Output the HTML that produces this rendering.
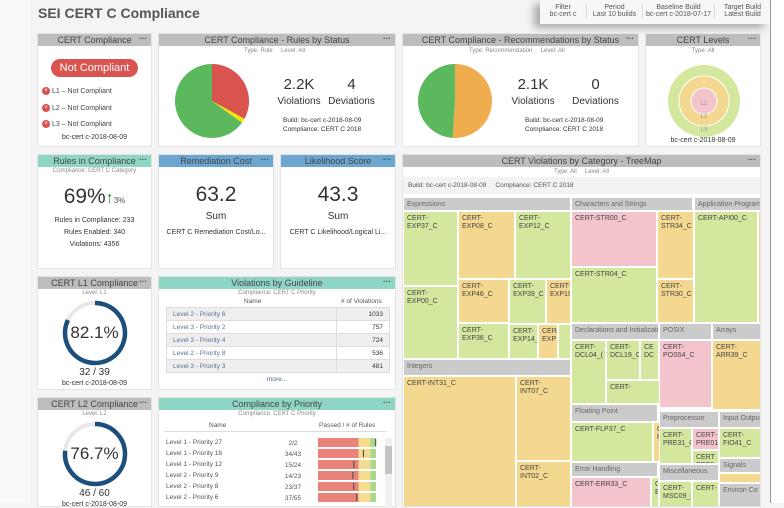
<!DOCTYPE html>
<html><head><meta charset="utf-8"><style>
*{box-sizing:border-box;margin:0;padding:0}
body{width:784px;height:503px;overflow:hidden;background:#f4f4f4;font-family:"Liberation Sans",Arial,sans-serif;color:#333;position:relative}
.a{position:absolute}
.p{position:absolute;background:#fff;border:1px solid #e4e4e4}
.h{position:absolute;left:0;right:0;top:0;height:12px;background:#bdbdbd;color:#444;font-size:9px;line-height:12px;text-align:center;white-space:nowrap;overflow:hidden}
.h.t{background:#8fd5c4}.h.b{background:#6aa6cf}
.h i{position:absolute;right:4px;top:-1px;font-style:normal;font-weight:bold;font-size:8px}
.c{text-align:center;width:100%}
.s{font-size:6px;color:#888}
.tm{position:absolute;font-size:7px;color:#444;line-height:8px;padding:3px 3px;overflow:hidden}
.g{background:#d4e79f}.o{background:#f5d890}.k{background:#f4c4cc}.hd{background:#cbcbcb;color:#666;white-space:nowrap}
table{border-collapse:collapse;font-size:6.5px}
</style></head><body>
<div class="a" style="left:0;top:0;width:30px;height:503px;background:#f9f9f9"></div>
<div class="a" style="left:770px;top:0;width:14px;height:503px;background:#fff;border-left:1px solid #999"></div>
<div class="a" style="left:38px;top:5px;font-size:14px;font-weight:bold;color:#555">SEI CERT C Compliance</div>
<div class="a" style="left:540px;top:0;width:230px;height:24px;background:#f7f7f7;box-shadow:-6px 4px 8px rgba(0,0,0,.3);font-size:7px;color:#555">
 <div class="a" style="left:2px;top:4px;width:42px;text-align:center">Filter<br>bc-cert c</div>
 <div class="a" style="left:46px;top:4px;width:56px;text-align:center;border-left:1px solid #ddd">Period<br>Last 10 builds</div>
 <div class="a" style="left:102px;top:4px;width:72px;text-align:center;border-left:1px solid #ddd">Baseline Build<br>bc-cert c-2018-07-17</div>
 <div class="a" style="left:174px;top:4px;width:56px;text-align:center;border-left:1px solid #ddd">Target Build<br>Latest Build</div>
</div>

<!-- CERT Compliance -->
<div class="p" style="left:37px;top:33px;width:115px;height:114px">
 <div class="h">CERT Compliance<i>···</i></div>
 <div class="a" style="left:13px;top:25px;width:87px;height:18px;border-radius:9px;background:#d9534f;color:#fff;font-size:11px;text-align:center;line-height:18px">Not Compliant</div>
 <div class="a" style="left:4px;top:50px;font-size:7px;line-height:16.5px;color:#444">
  <div><span style="display:inline-block;width:8px;height:8px;border-radius:4px;background:#d9534f;color:#fff;font-size:6px;text-align:center;line-height:8px;vertical-align:middle">×</span> L1 – Not Compliant</div>
  <div><span style="display:inline-block;width:8px;height:8px;border-radius:4px;background:#d9534f;color:#fff;font-size:6px;text-align:center;line-height:8px;vertical-align:middle">×</span> L2 – Not Compliant</div>
  <div><span style="display:inline-block;width:8px;height:8px;border-radius:4px;background:#d9534f;color:#fff;font-size:6px;text-align:center;line-height:8px;vertical-align:middle">×</span> L3 – Not Compliant</div>
 </div>
 <div class="a c" style="top:100px;font-size:7px">bc-cert c-2018-08-09</div>
</div>

<!-- Rules by status -->
<div class="p" style="left:158px;top:33px;width:238px;height:114px">
 <div class="h">CERT Compliance - Rules by Status<i>···</i></div>
 <div class="a s" style="left:85px;top:14px">Type: Rule &nbsp; &nbsp; Level: All</div>
 <svg class="a" id="pie1" style="left:0;top:0" width="110" height="114"></svg>
 <div class="a" style="left:110px;top:42px;width:60px;text-align:center;font-size:15px">2.2K</div>
 <div class="a" style="left:170px;top:42px;width:45px;text-align:center;font-size:15px">4</div>
 <div class="a" style="left:105px;top:62px;width:70px;text-align:center;font-size:10px">Violations</div>
 <div class="a" style="left:165px;top:62px;width:55px;text-align:center;font-size:10px">Deviations</div>
 <div class="a" style="left:124px;top:82px;font-size:6.5px;line-height:9px">Build: bc-cert c-2018-08-09<br>Compliance: CERT C 2018</div>
</div>

<!-- Recommendations -->
<div class="p" style="left:402px;top:33px;width:237px;height:114px">
 <div class="h">CERT Compliance - Recommendations by Status<i>···</i></div>
 <div class="a s" style="left:66px;top:14px">Type: Recommendation &nbsp; &nbsp; Level: All</div>
 <svg class="a" id="pie2" style="left:0;top:0" width="100" height="114"></svg>
 <div class="a" style="left:105px;top:42px;width:50px;text-align:center;font-size:15px">2.1K</div>
 <div class="a" style="left:170px;top:42px;width:45px;text-align:center;font-size:15px">0</div>
 <div class="a" style="left:100px;top:62px;width:60px;text-align:center;font-size:10px">Violations</div>
 <div class="a" style="left:165px;top:62px;width:55px;text-align:center;font-size:10px">Deviations</div>
 <div class="a" style="left:122px;top:82px;font-size:6.5px;line-height:9px">Build: bc-cert c-2018-08-09<br>Compliance: CERT C 2018</div>
</div>

<!-- CERT Levels -->
<div class="p" style="left:645px;top:33px;width:116px;height:114px">
 <div class="h">CERT Levels<i>···</i></div>
 <div class="a c s" style="top:14px">Type: All</div>
 <svg class="a" style="left:0;top:0" width="116" height="114">
  <circle cx="58" cy="67" r="36" fill="#d4e79f"/>
  <circle cx="58" cy="67" r="25" fill="#f5d890" stroke="#fff" stroke-width="1"/>
  <circle cx="58" cy="67" r="13" fill="#f4c4cc" stroke="#fff" stroke-width="1"/>
  <text x="58" y="71" font-size="6" fill="#999" text-anchor="middle">L1</text>
  <text x="58" y="84" font-size="6" fill="#999" text-anchor="middle">L2</text>
  <text x="58" y="97" font-size="6" fill="#999" text-anchor="middle">L3</text>
 </svg>
 <div class="a c" style="top:103px;font-size:7px">bc-cert c-2018-08-09</div>
</div>

<!-- Rules in Compliance -->
<div class="p" style="left:37px;top:154px;width:115px;height:115px">
 <div class="h t">Rules in Compliance<i>···</i></div>
 <div class="a c s" style="top:13px">Compliance: CERT C Category</div>
 <div class="a c" style="top:30px;font-size:21px">69%<span style="color:#2a8a2a;font-size:16px">&#8593;</span><span style="font-size:8px;color:#555">3%</span></div>
 <div class="a c" style="top:60px;font-size:7px;line-height:12px">Rules in Compliance: 233<br>Rules Enabled: 340<br>Violations: 4356</div>
</div>
<div class="p" style="left:158px;top:154px;width:116px;height:115px">
 <div class="h b">Remediation Cost<i>···</i></div>
 <div class="a c" style="top:28px;font-size:21px">63.2</div>
 <div class="a c" style="top:56px;font-size:10px">Sum</div>
 <div class="a c" style="top:74px;font-size:7px">CERT C Remediation Cost/Lo...</div>
</div>
<div class="p" style="left:280px;top:154px;width:116px;height:115px">
 <div class="h b">Likelihood Score<i>···</i></div>
 <div class="a c" style="top:28px;font-size:21px">43.3</div>
 <div class="a c" style="top:56px;font-size:10px">Sum</div>
 <div class="a c" style="top:74px;font-size:7px">CERT C Likelihood/Logical Li...</div>
</div>

<!-- L1 -->
<div class="p" style="left:37px;top:276px;width:115px;height:114px">
 <div class="h">CERT L1 Compliance<i>···</i></div>
 <div class="a c s" style="top:13px">Level: L1</div>
 <svg class="a" id="g1" style="left:0;top:0" width="115" height="114"></svg>
 <div class="a c" style="top:46px;font-size:17px">82.1%</div>
 <div class="a c" style="top:90px;font-size:10px">32 / 39</div>
 <div class="a c" style="top:103px;font-size:7px">bc-cert c-2018-08-09</div>
</div>
<div class="p" style="left:37px;top:397px;width:115px;height:110px">
 <div class="h">CERT L2 Compliance<i>···</i></div>
 <div class="a c s" style="top:13px">Level: L2</div>
 <svg class="a" id="g2" style="left:0;top:0" width="115" height="110"></svg>
 <div class="a c" style="top:46px;font-size:17px">76.7%</div>
 <div class="a c" style="top:90px;font-size:10px">46 / 60</div>
 <div class="a c" style="top:103px;font-size:7px">bc-cert c-2018-08-09</div>
</div>

<!-- Violations by Guideline -->
<div class="p" style="left:158px;top:276px;width:238px;height:114px">
 <div class="h t">Violations by Guideline<i>···</i></div>
 <div class="a c s" style="top:13px">Compliance: CERT C Priority</div>
 <div class="a" style="left:85px;top:21px;font-size:6.5px;color:#555">Name</div>
 <div class="a" style="left:182px;top:21px;font-size:6.5px;color:#555"># of Violations</div>
 <table class="a" style="left:7px;top:30px;width:224px" id="vt"></table>
 <div class="a c" style="top:99px;font-size:6.5px;color:#4a6a9a">more...</div>
</div>

<!-- Compliance by Priority -->
<div class="p" style="left:158px;top:397px;width:238px;height:110px">
 <div class="h t">Compliance by Priority<i>···</i></div>
 <div class="a c s" style="top:13px">Compliance: CERT C Priority</div>
 <div class="a" style="left:50px;top:24px;font-size:6.5px;color:#555">Name</div>
 <div class="a" style="left:160px;top:24px;font-size:6.5px;color:#555">Passed / # of Rules</div>
 <div class="a" style="left:5px;top:33px;width:223px;border-top:1px solid #ddd"></div>
 <svg class="a" id="cp" style="left:0;top:0" width="238" height="110"></svg>
 <div class="a" style="left:226px;top:40px;width:7px;height:70px;background:#f0f0f0"><div style="margin-top:8px;height:28px;background:#c4c4c4"></div></div>
</div>

<!-- TreeMap -->
<div class="p" style="left:402px;top:154px;width:359px;height:353px;overflow:hidden">
 <div class="h">CERT Violations by Category - TreeMap<i>···</i></div>
 <div class="a c s" style="top:14px">Type: All &nbsp; &nbsp; Level: All</div>
 <div class="a" style="left:0;top:22px;width:359px;height:17px;background:#f3f3f3;font-size:6.5px;color:#555;padding:5px 5px">Build: bc-cert c-2018-08-09 &nbsp; &nbsp; Compliance: CERT C 2018</div>
 <div id="tm"></div>
</div>

<script>
// Pie data
const rulesLabels=['Violated','Deviated','Compliant'];
const rulesValues=[33,2,65];
const rulesColors=['#d9534f','#f2e600','#5cb85c'];
const recLabels=['Violated','Compliant'];
const recValues=[51,49];
const recColors=['#f0ad4e','#5cb85c'];
function pie(id,vals,cols,cx,cy,r,name){
 const s=document.getElementById(id);const tot=vals.reduce((a,b)=>a+b,0);let a0=-Math.PI/2;
 vals.forEach((v,i)=>{const a1=a0+v/tot*2*Math.PI;
  const p=document.createElementNS('http://www.w3.org/2000/svg','path');
  const x0=cx+r*Math.cos(a0),y0=cy+r*Math.sin(a0),x1=cx+r*Math.cos(a1),y1=cy+r*Math.sin(a1);
  p.setAttribute('d',`M${cx},${cy}L${x0},${y0}A${r},${r} 0 ${a1-a0>Math.PI?1:0} 1 ${x1},${y1}Z`);
  p.setAttribute('fill',cols[i]);
  
  
  s.appendChild(p);a0=a1;});
}
pie('pie1',rulesValues,rulesColors,53,67,37,'rules');
pie('pie2',recValues,recColors,52,67,37,'recommendations');

// Gauges
const gaugeValues=[82.1,76.7];
function gauge(id,v){const s=document.getElementById(id);const r=30,cx=57,cy=56;
 const c=document.createElementNS('http://www.w3.org/2000/svg','circle');
 c.setAttribute('cx',cx);c.setAttribute('cy',cy);c.setAttribute('r',r);c.setAttribute('fill','none');c.setAttribute('stroke','#e8e8e8');c.setAttribute('stroke-width','4');
 
 
 s.appendChild(c);
 const a1=-Math.PI/2+v/100*2*Math.PI;
 const p=document.createElementNS('http://www.w3.org/2000/svg','path');
 p.setAttribute('d',`M${cx},${cy-r}A${r},${r} 0 ${v>50?1:0} 1 ${cx+r*Math.cos(a1)},${cy+r*Math.sin(a1)}`);
 p.setAttribute('fill','none');p.setAttribute('stroke','#1d4f7c');p.setAttribute('stroke-width','4.5');
 
 
 s.appendChild(p);}
gauge('g1',gaugeValues[0]);gauge('g2',gaugeValues[1]);

// Violations table
const guideNames=['Level 2 - Priority 6','Level 3 - Priority 2','Level 3 - Priority 4','Level 2 - Priority 8','Level 3 - Priority 3'];
const guideViolations=[1033,757,724,536,481];
const vt=document.getElementById('vt');
guideNames.forEach((n,i)=>{const tr=document.createElement('tr');
 
 
 tr.style.background=i%2?'#fff':'#efefef';tr.style.height='13px';
 tr.innerHTML=`<td style="border:1px solid #ddd;padding-left:6px;color:#5a6f94;width:170px">${n}</td><td style="border:1px solid #ddd;text-align:right;padding-right:6px">${guideViolations[i]}</td>`;
 vt.appendChild(tr);});

// Compliance by priority
const prioNames=['Level 1 - Priority 27','Level 1 - Priority 18','Level 1 - Priority 12','Level 2 - Priority 9','Level 2 - Priority 8','Level 2 - Priority 6'];
const prioPassed=[2,34,15,14,23,37];
const prioTotal=[2,43,24,23,37,55];
const cp=document.getElementById('cp');const bx=159,bw=58;
const NS='http://www.w3.org/2000/svg';
prioNames.forEach((n,i)=>{const y=40+i*11;
 const t=document.createElementNS(NS,'text');t.setAttribute('x',7);t.setAttribute('y',y+6);t.setAttribute('font-size','6.5');t.setAttribute('fill','#555');t.textContent=n;
 
 
 cp.appendChild(t);
 const t2=document.createElementNS(NS,'text');t2.setAttribute('x',134);t2.setAttribute('y',y+7);t2.setAttribute('font-size','6.5');t2.setAttribute('fill','#555');t2.setAttribute('text-anchor','middle');t2.textContent=prioPassed[i]+'/'+prioTotal[i];
 
 
 cp.appendChild(t2);
 [[0,0.7,'#e9837a'],[0.7,0.9,'#f6dc8e'],[0.9,1,'#a9d98a']].forEach(b=>{const r=document.createElementNS(NS,'rect');
  r.setAttribute('x',bx+b[0]*bw);r.setAttribute('y',y);r.setAttribute('width',(b[1]-b[0])*bw);r.setAttribute('height',9);r.setAttribute('fill',b[2]);
  
  
  cp.appendChild(r);});
 const m=document.createElementNS(NS,'rect');m.setAttribute('x',bx+prioPassed[i]/prioTotal[i]*bw-1);m.setAttribute('y',y+1);m.setAttribute('width',1.2);m.setAttribute('height',7);m.setAttribute('fill','#555');
 
 
 cp.appendChild(m);});

// Treemap cells (relative to panel): [label,x,y,w,h,class]
const tmCells=[
['Expressions',0,42,168,14,'hd'],['CERT-<br>EXP37_C',0,56,55,75,'g'],['CERT-<br>EXP08_C',55,56,57,68,'o'],['CERT-<br>EXP12_C',112,56,56,68,'g'],
['CERT-<br>EXP00_C',0,131,55,73,'g'],['CERT-<br>EXP46_C',55,124,51,44,'o'],['CERT-<br>EXP39_C',106,124,37,45,'g'],['CERT-<br>EXP19',143,124,25,45,'o'],
['CERT-<br>EXP36_C',55,168,51,36,'g'],['CERT-<br>EXP14_',106,169,29,35,'g'],['CER<br>EXP',135,169,20,35,'o'],['',155,169,13,35,'g'],
['Integers',0,204,168,17,'hd'],['CERT-INT31_C',0,221,113,135,'o'],['CERT-INT07_C',113,221,55,85,'o'],['CERT-INT02_C',113,306,55,50,'o'],
['Characters and Strings',168,42,122,14,'hd'],['CERT-STR00_C',168,56,86,56,'k'],['CERT-STR04_C',168,112,86,56,'g'],['CERT-<br>STR34_C',254,56,37,68,'o'],['CERT-<br>STR30_C',254,124,37,44,'o'],
['Application Programming',291,42,68,14,'hd'],['CERT-API00_C',291,56,64,112,'g'],['',355,56,4,112,'o'],
['Declarations and Initializati',168,168,88,17,'hd'],['CERT-<br>DCL04_(',168,185,35,64,'g'],['CERT-<br>DCL19_C',203,185,34,40,'g'],['CE<br>DC',237,185,19,40,'g'],['CERT-',203,225,54,24,'g'],
['POSIX',256,168,53,17,'hd'],['CERT-<br>POS54_C',256,185,53,68,'k'],['Arrays',309,168,50,17,'hd'],['CERT-<br>ARR39_C',309,185,50,70,'o'],
['Floating Point',168,249,87,18,'hd'],['CERT-FLP37_C',168,267,82,40,'g'],['C<br>F',250,267,8,40,'o'],
['Preprocessor',256,256,60,17,'hd'],['CERT-<br>PRE31_C',256,273,33,36,'g'],['CERT-<br>PRE01_',289,273,27,22,'k'],['CERT<br>PRE0',289,295,27,14,'g'],
['Input Output',316,256,43,17,'hd'],['CERT-<br>FIO41_C',316,273,43,30,'g'],
['Error Handling',168,307,87,15,'hd'],['CERT-ERR33_C',168,322,80,34,'k'],['C<br>E',248,322,8,34,'g'],
['Miscellaneous',256,309,60,17,'hd'],['CERT-<br>MSC09_(',256,326,33,30,'g'],['CERT-',289,326,27,30,'g'],
['Signals',316,303,43,15,'hd'],['',316,318,43,10,'o'],['Environ Co',316,328,43,28,'hd']
];
const tm=document.getElementById('tm');
tmCells.forEach(c=>{const d=document.createElement('div');d.className='tm '+c[5];
 
 
 d.style.left=c[1]+'px';d.style.top=c[2]+'px';d.style.width=c[3]+'px';d.style.height=c[4]+'px';d.style.border='0.5px solid #fff';d.innerHTML=c[0];tm.appendChild(d);});
</script>
</body></html>
